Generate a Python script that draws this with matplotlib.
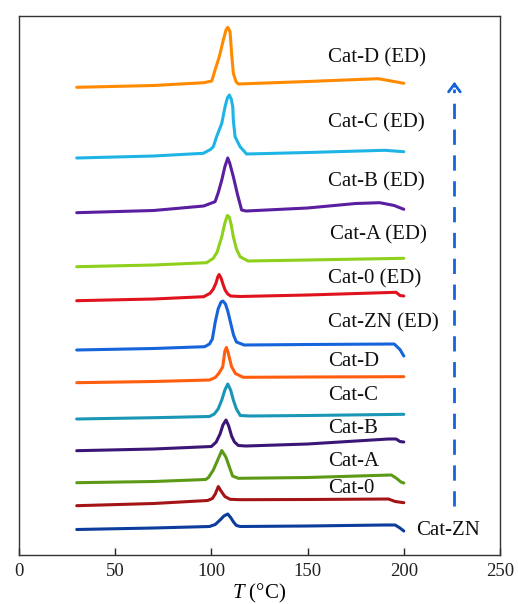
import matplotlib
matplotlib.use("Agg")
import matplotlib.pyplot as plt

plt.rcParams['font.family'] = ['Liberation Serif', 'DejaVu Serif']
plt.rcParams['mathtext.fontset'] = 'custom'
plt.rcParams['mathtext.rm'] = 'Liberation Serif'
plt.rcParams['mathtext.it'] = 'Liberation Serif:italic'

# DSC traces, temperature (C) vs stacked heat flow (a.u.), bottom to top
names = ['Cat-ZN', 'Cat-0', 'Cat-A', 'Cat-B', 'Cat-C', 'Cat-D',
         'Cat-ZN (ED)', 'Cat-0 (ED)', 'Cat-A (ED)', 'Cat-B (ED)', 'Cat-C (ED)', 'Cat-D (ED)']

T_zn = [30, 70, 99, 102, 104.5, 106.5, 108.5, 110, 111.5, 113, 115, 150, 190, 195.5, 198, 200]
y_zn = [25.5, 27, 28.5, 30.5, 35, 39, 41, 37.5, 33, 29.5, 28.5, 29, 30, 30, 27, 24]

T_0 = [30, 70, 98, 100.5, 102, 103.6, 105, 107, 109.7, 115, 150, 192, 195.5, 200]
y_0 = [49.3, 51.5, 54.5, 56.5, 61, 68.5, 64, 58.5, 55.7, 55.3, 55.5, 56, 53.5, 52.3]

T_a = [30, 70, 97, 98.5, 101, 103.5, 105.4, 107.5, 109.3, 111, 114, 150, 193.5, 196, 198.5, 200]
y_a = [72.3, 73.5, 75.5, 77.5, 85, 96, 104.5, 98, 88.3, 79, 76.7, 77.5, 80, 77, 73, 72]

T_b = [30, 70, 100, 102.5, 104.5, 106, 107.6, 109, 110.5, 112, 114, 118, 150, 192, 196, 198, 200]
y_b = [104.3, 106, 108.5, 113, 121, 130, 135, 129, 119, 113, 109.5, 109, 111, 116, 116, 113.5, 113]

T_c = [30, 70, 99, 101.5, 103.5, 105.4, 107, 108.5, 110, 111.4, 113, 115, 120, 150, 200]
y_c = [136, 137.3, 138.5, 141, 146, 155, 165, 171, 165, 155, 146, 139.5, 139, 139.5, 140.7]

T_d = [30, 70, 99, 102, 104, 105.9, 107, 107.8, 108.6, 110.5, 112.5, 116.5, 150, 200]
y_d = [172.3, 173.5, 175, 177.5, 182, 188.3, 204, 207.5, 203, 188.3, 181.5, 177.7, 178, 178.3]

T_zn_ed = [30, 70, 96.5, 99, 100.5, 102, 103.5, 105, 106, 107.3, 108.5, 110, 111.5, 113, 117, 150, 195, 198, 200]
y_zn_ed = [205, 206.5, 208.3, 211, 216, 233, 246, 253, 254, 251, 244, 232, 220, 213, 210, 210.5, 211, 205.5, 199]

T_0_ed = [30, 70, 96, 99.3, 101, 102.4, 103.3, 104, 105, 106, 107.1, 108.5, 110, 115, 150, 196, 198, 200]
y_0_ed = [254.3, 256, 258.3, 261.7, 266, 272, 278, 280.5, 277, 271, 265, 261, 259, 258.5, 260, 262.7, 259.5, 259]

T_a_ed = [30, 70, 97.5, 101, 103, 105.4, 107, 108.3, 109.3, 110.3, 111.4, 113, 114.9, 119, 150, 200]
y_a_ed = [288.3, 290, 292.3, 296.7, 303, 318.3, 332, 339.5, 338, 330, 318.3, 306, 298.3, 294, 295, 296.7]

T_b_ed = [30, 70, 96, 101.9, 103.5, 105.4, 107, 108.5, 109.5, 111.4, 113.5, 115.7, 118, 150, 175, 187.5, 195, 200]
y_b_ed = [342.3, 344.5, 349, 353.3, 362, 375, 388.3, 397, 392, 378.3, 361, 345, 344, 347, 351.5, 352.3, 349.5, 345.7]

T_c_ed = [30, 70, 95.8, 99.5, 101, 102.7, 105.4, 107.1, 108.3, 109.3, 110.3, 111.1, 111.4, 112.3, 114.9, 118.3, 150, 190, 200]
y_c_ed = [397, 399, 401.7, 405.5, 408.3, 418.3, 431.7, 448.3, 457, 460, 456, 448.3, 435, 418.3, 408.3, 401, 402.5, 404.7, 403.3]

T_d_ed = [30, 70, 96, 100.2, 101.9, 104.1, 106.2, 107.6, 108.5, 109.7, 110.5, 111.4, 112.8, 114, 150, 186.6, 192, 200]
y_d_ed = [467.7, 469.5, 472.3, 474, 485, 498.3, 515, 525, 527.7, 523.3, 501.7, 481.7, 473.3, 471, 473.5, 476.3, 474.5, 471.7]

temps = [T_zn, T_0, T_a, T_b, T_c, T_d, T_zn_ed, T_0_ed, T_a_ed, T_b_ed, T_c_ed, T_d_ed]
flows = [y_zn, y_0, y_a, y_b, y_c, y_d, y_zn_ed, y_0_ed, y_a_ed, y_b_ed, y_c_ed, y_d_ed]

colors = ['#0c3c9c', '#a41416', '#5c9a16', '#3c1676', '#1a96b6', '#ff5e0e',
          '#1664dc', '#e0121e', '#8ed01c', '#5a1ea0', '#1eb4e6', '#ff8a00']

label_pos = [(206.3, 24.3), (160.6, 66.7), (160.6, 93.5), (160.6, 126.5), (160.6, 159),
             (160.6, 193.3), (160.6, 232.3), (160.6, 275.7), (161.6, 320), (160.6, 373.3),
             (160.6, 431.7), (160.6, 496.7)]

fig = plt.figure(figsize=(5.18, 6.04), dpi=100)
ax = fig.add_axes([19 / 518, 49 / 604, 481 / 518, 539 / 604])

for T, y, c in zip(temps, flows, colors):
    ax.plot(T, y, color=c, lw=2.2, solid_capstyle='round', solid_joinstyle='round')

for name, (x, y) in zip(names, label_pos):
    ax.text(x, y, name, fontsize=15, ha='left', va='center', color='#111111')

# dashed arrow
ax.plot([226.3, 226.3], [49, 466], color='#1464dc', lw=2.0, linestyle=(0, (5.5, 3.8)))
ax.annotate('', xy=(226.3, 476), xytext=(226.3, 466),
            arrowprops=dict(arrowstyle='->,head_width=0.3,head_length=0.4',
                            color='#1464dc', lw=2.0, mutation_scale=14))

ax.set_xlim(0, 250)
ax.set_ylim(0, 539)
ax.set_xticks([0, 50, 100, 150, 200, 250])
ax.set_yticks([])
ax.tick_params(axis='x', direction='in', length=5, width=1, labelsize=13.5, pad=6, colors='#222222')
for s in ax.spines.values():
    s.set_color('#333333')
    s.set_linewidth(1.0)
ax.set_xlabel(r'$T$ (°C)', fontsize=15, labelpad=1)

fig.savefig('out.png', dpi=100)
